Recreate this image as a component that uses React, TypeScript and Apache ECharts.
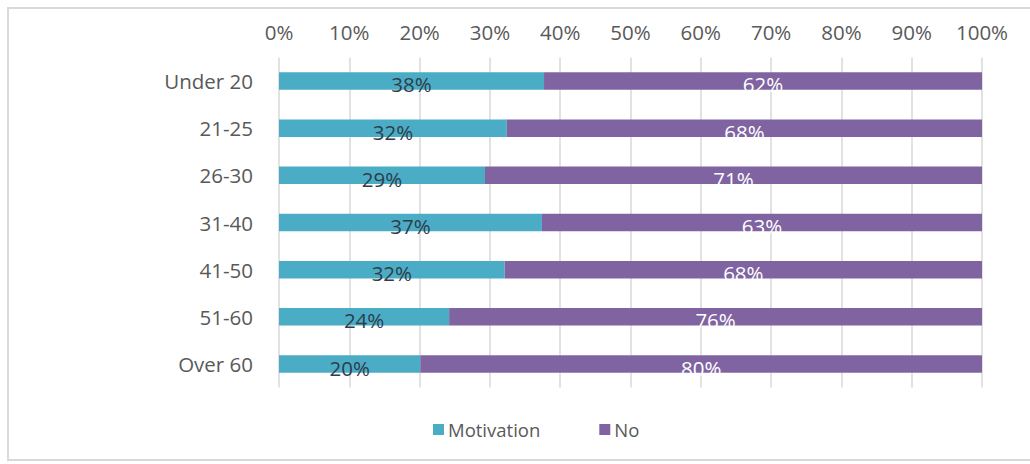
import React, { useEffect, useRef } from "react";
import * as echarts from "echarts";

const categories = ["Under 20", "21-25", "26-30", "31-40", "41-50", "51-60", "Over 60"];
const motivation = [37.7, 32.4, 29.3, 37.4, 32.1, 24.2, 20.1];
const no = [62.3, 67.6, 70.7, 62.6, 67.9, 75.8, 79.9];
const seriesNames = ["Motivation", "No"];
const colors = ["#4bacc6", "#8064a2"];

const FONT = "'Open Sans', sans-serif";

export default function App() {
  const ref = useRef<HTMLDivElement>(null);
  useEffect(() => {
    if (!ref.current) return;
    const chart = echarts.init(ref.current, null, { renderer: "svg" });
    const labelFmt = (p: any) => Math.round(p.value) + "%";
    chart.setOption({
      animation: false,
      backgroundColor: "#ffffff",
      graphic: [
        {
          type: "rect",
          shape: { x: 8, y: 8, width: 1040, height: 452 },
          style: { fill: "none", stroke: "#d9d9d9", lineWidth: 2 },
          silent: true,
        },
      ],
      grid: { left: 279, right: 48, top: 57.4, bottom: 76.4, containLabel: false },
      xAxis: {
        type: "value",
        position: "top",
        min: 0,
        max: 100,
        interval: 10,
        axisLine: { show: false },
        axisTick: { show: false },
        axisLabel: {
          formatter: "{value}%",
          color: "#595959",
          fontFamily: FONT,
          fontSize: 20.5,
          margin: 15,
        },
        splitLine: { show: true, lineStyle: { color: "#d9d9d9", width: 1.5 } },
      },
      yAxis: {
        type: "category",
        data: categories,
        inverse: true,
        axisLine: { show: false },
        axisTick: { show: false },
        axisLabel: {
          color: "#595959",
          fontFamily: FONT,
          fontSize: 20.5,
          margin: 26,
        },
      },
      legend: {
        data: seriesNames,
        left: 428,
        top: 415,
        icon: "rect",
        itemWidth: 11,
        itemHeight: 11,
        itemGap: 59,
        textStyle: { color: "#595959", fontFamily: FONT, fontSize: 18.5, padding: [0, 0, 0, -1] },
      },
      series: [
        {
          name: seriesNames[0],
          type: "bar",
          stack: "total",
          data: motivation,
          barWidth: 17.5,
          itemStyle: { color: colors[0] },
          label: {
            show: true,
            position: "inside",
            offset: [0, 3.5],
            formatter: labelFmt,
            color: "#2e3d4a",
            fontFamily: FONT,
            fontSize: 20.5,
          },
        },
        {
          name: seriesNames[1],
          type: "bar",
          stack: "total",
          data: no,
          barWidth: 17.5,
          itemStyle: { color: colors[1] },
          label: {
            show: true,
            position: "inside",
            offset: [0, 3.5],
            formatter: labelFmt,
            color: "#ffffff",
            fontFamily: FONT,
            fontSize: 20.5,
          },
        },
      ],
    });
    return () => chart.dispose();
  }, []);
  return (
    <div
      ref={ref}
      style={{ position: "fixed", left: 0, top: 0, width: 1030, height: 464 }}
    />
  );
}
